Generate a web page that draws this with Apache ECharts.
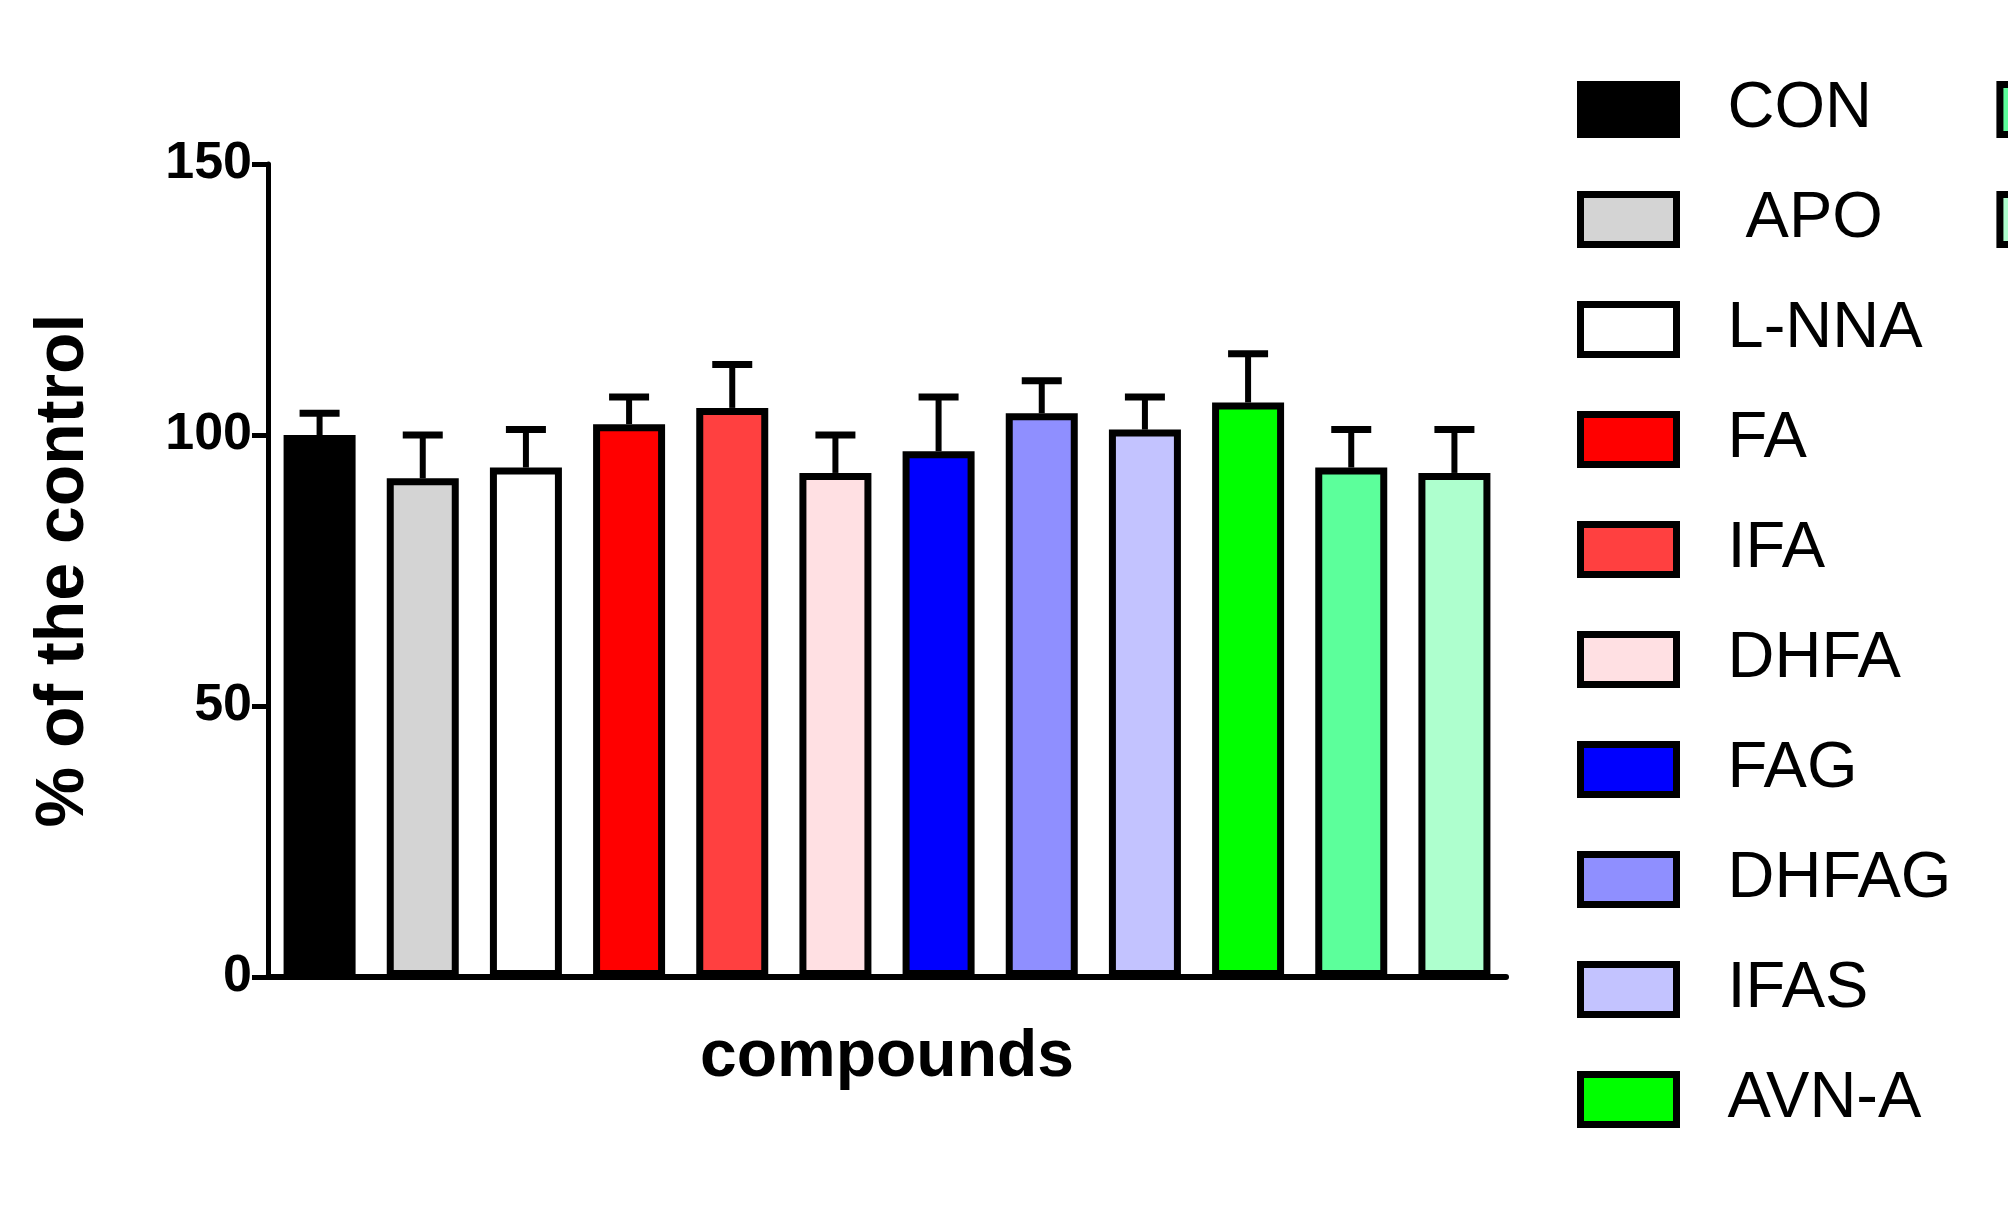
<!DOCTYPE html><html><head><meta charset="utf-8">
<script src="https://cdn.jsdelivr.net/npm/echarts@6/dist/echarts.min.js"></script>
<style>html,body{margin:0;background:#fff}#c{width:2008px;height:1221px}</style></head><body><div id="c"></div>
<script>
const categories=['CON',' APO','L-NNA','FA','IFA','DHFA','FAG','DHFAG','IFAS','AVN-A','AVN-B','AVN-C'];
const means=[100,92,94,102,105,93,97,104,101,106,94,93];
const upper=[104,100,101,107,113,100,107,110,107,115,101,101];
const colors=['#000000','#d4d4d4','#ffffff','#ff0000','#ff4040','#ffe0e3','#0000ff','#8f8fff','#c3c3ff','#00ff00','#5cff9b','#aeffce'];
const yTicks=[0,50,100,150];
const series=categories.map((n,i)=>({name:n,type:'bar',barWidth:72,barGap:'-100%',
 data:categories.map((_,j)=>j===i?means[i]:null),
 itemStyle:{color:colors[i],borderColor:'#000',borderWidth:7},z:3}));
series.push({type:'custom',z:2,silent:true,data:means.map((m,i)=>[i,m,upper[i]]),
 renderItem:(p,api)=>{const a=api.coord([api.value(0),api.value(1)]),b=api.coord([api.value(0),api.value(2)]);
 return {type:'group',children:[
  {type:'line',shape:{x1:a[0],y1:a[1],x2:b[0],y2:b[1]},style:{stroke:'#000',lineWidth:6}},
  {type:'line',shape:{x1:b[0]-20,y1:b[1],x2:b[0]+20,y2:b[1]},style:{stroke:'#000',lineWidth:7}}]};}});
const chart=echarts.init(document.getElementById('c'));
chart.setOption({animation:false,
 grid:{left:268,right:502,top:164,bottom:244},
 xAxis:{type:'category',data:categories,name:'compounds',nameLocation:'middle',nameGap:48,
  nameTextStyle:{fontFamily:'Liberation Sans',fontWeight:'bold',fontSize:66,color:'#000'},
  axisLine:{lineStyle:{color:'#000',width:6}},axisTick:{show:false},axisLabel:{show:false}},
 yAxis:{type:'value',min:0,max:150,interval:50,name:'% of the control',nameLocation:'middle',nameGap:170,
  nameTextStyle:{fontFamily:'Liberation Sans',fontWeight:'bold',fontSize:68,color:'#000'},
  splitLine:{show:false},axisLine:{show:true,lineStyle:{color:'#000',width:5}},
  axisTick:{show:true,length:16,lineStyle:{color:'#000',width:5}},
  axisLabel:{fontFamily:'Liberation Sans',fontWeight:'bold',fontSize:52,color:'#000',margin:16,
   formatter:v=>yTicks.includes(v)?String(v):''}},
 legend:{orient:'vertical',left:1572,top:72,itemWidth:96,itemHeight:50,itemGap:45,icon:'rect',
  itemStyle:{borderWidth:7,borderColor:'#000'},
  textStyle:{fontFamily:'Liberation Sans',fontSize:65,color:'#000',padding:[0,0,0,46],lineHeight:50},
  data:categories},
 series});
</script></body></html>
